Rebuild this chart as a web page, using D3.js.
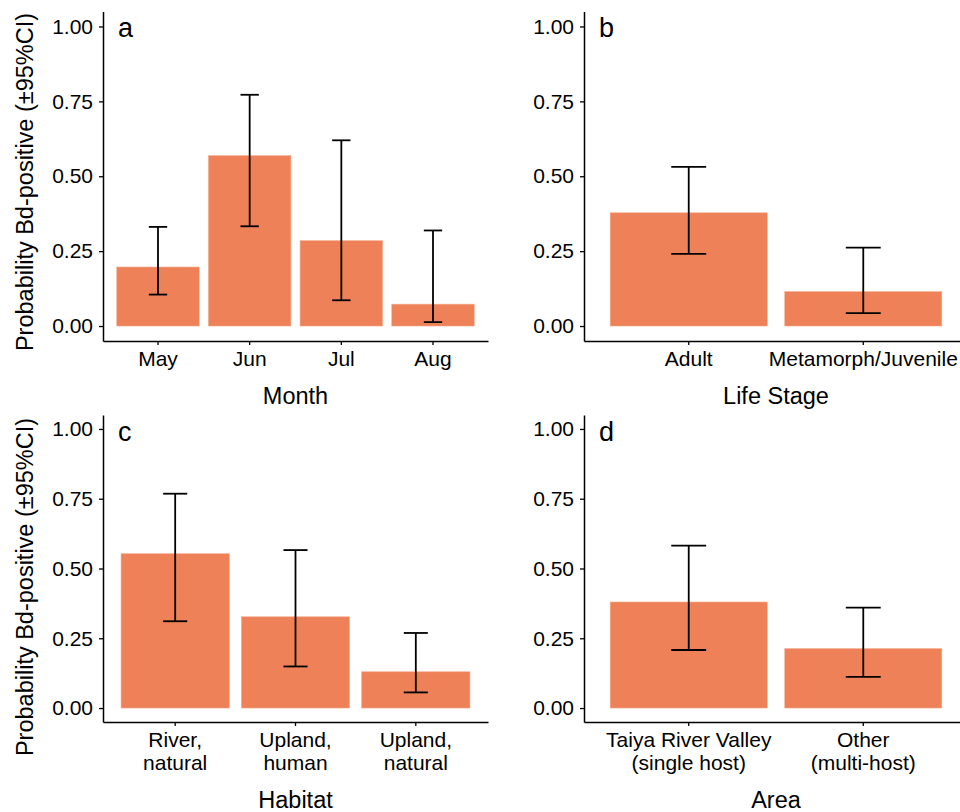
<!DOCTYPE html>
<html>
<head>
<meta charset="utf-8">
<script src="https://cdn.jsdelivr.net/npm/d3@7"></script>
<style>
  body { margin: 0; background: #fff; }
  svg { display: block; font-family: "Liberation Sans", Arial, Helvetica, sans-serif; }
</style>
</head>
<body>
<script>
// data
const monthCats = ['May', 'Jun', 'Jul', 'Aug'];
const monthProb = [0.197, 0.569, 0.285, 0.073];
const monthLo = [0.105, 0.333, 0.086, 0.013];
const monthHi = [0.331, 0.772, 0.620, 0.319];

const stageCats = ['Adult', 'Metamorph/Juvenile'];
const stageProb = [0.378, 0.115];
const stageLo = [0.241, 0.043];
const stageHi = [0.531, 0.262];

const habitatCats = ['River,\nnatural', 'Upland,\nhuman', 'Upland,\nnatural'];
const habitatProb = [0.553, 0.327, 0.130];
const habitatLo = [0.311, 0.149, 0.056];
const habitatHi = [0.768, 0.566, 0.269];

const areaCats = ['Taiya River Valley\n(single host)', 'Other\n(multi-host)'];
const areaProb = [0.380, 0.213];
const areaLo = [0.208, 0.112];
const areaHi = [0.582, 0.360];

const yTicks = [0, 0.25, 0.5, 0.75, 1];
const yTitle = 'Probability Bd-positive (\u00b195%CI)';

const barColor = '#ee8157';

const svg = d3.select(document.body).append('svg')
  .attr('width', 960)
  .attr('height', 812);

const panels = [
  { tag: 'a', cats: monthCats, p: monthProb, lo: monthLo, hi: monthHi, xlab: 'Month',
    left: 103, right: 488, top: 11.5, bottom: 341, ylab: true, ylabY: 182, xlabY: 404 },
  { tag: 'b', cats: stageCats, p: stageProb, lo: stageLo, hi: stageHi, xlab: 'Life Stage',
    left: 584, right: 968, top: 11.5, bottom: 341, ylab: false, xlabY: 404 },
  { tag: 'c', cats: habitatCats, p: habitatProb, lo: habitatLo, hi: habitatHi, xlab: 'Habitat',
    left: 103, right: 488, top: 415, bottom: 722, ylab: true, ylabY: 587, xlabY: 808 },
  { tag: 'd', cats: areaCats, p: areaProb, lo: areaLo, hi: areaHi, xlab: 'Area',
    left: 584, right: 968, top: 415, bottom: 722, ylab: false, xlabY: 808 }
];

panels.forEach(drawPanel);

function drawPanel(d) {
  const x = d3.scaleBand()
    .domain(d.cats)
    .range([d.left, d.right])
    .paddingInner(0.1)
    .paddingOuter(0.15);
  const y = d3.scaleLinear()
    .domain([-0.05, 1.05])
    .range([d.bottom, d.top]);

  const rows = d.cats.map((c, i) => ({ cat: c, p: d.p[i], lo: d.lo[i], hi: d.hi[i] }));
  const g = svg.append('g');

  // bars
  g.selectAll('.bar').data(rows)
    .enter().append('rect')
    .attr('class', 'bar')
    .attr('x', r => x(r.cat))
    .attr('width', x.bandwidth())
    .attr('y', r => y(r.p))
    .attr('height', r => y(0) - y(r.p))
    .attr('fill', barColor)
    .attr('stroke', '#f4ad90')
    .attr('stroke-width', 0.6);

  // error bars
  const cap = x.step() * 0.1;
  const eb = g.selectAll('.err').data(rows).enter().append('g')
    .attr('class', 'err')
    .attr('stroke', '#000')
    .attr('stroke-width', 1.8);
  eb.append('line')
    .attr('x1', r => x(r.cat) + x.bandwidth() / 2)
    .attr('x2', r => x(r.cat) + x.bandwidth() / 2)
    .attr('y1', r => y(r.lo))
    .attr('y2', r => y(r.hi));
  eb.append('line')
    .attr('x1', r => x(r.cat) + x.bandwidth() / 2 - cap)
    .attr('x2', r => x(r.cat) + x.bandwidth() / 2 + cap)
    .attr('y1', r => y(r.hi))
    .attr('y2', r => y(r.hi));
  eb.append('line')
    .attr('x1', r => x(r.cat) + x.bandwidth() / 2 - cap)
    .attr('x2', r => x(r.cat) + x.bandwidth() / 2 + cap)
    .attr('y1', r => y(r.lo))
    .attr('y2', r => y(r.lo));

  // y axis
  const ya = g.append('g')
    .attr('transform', `translate(${d.left},0)`)
    .call(d3.axisLeft(y).tickValues(yTicks).tickFormat(d3.format('.2f'))
      .tickSize(4).tickSizeOuter(0).tickPadding(6));
  styleAxis(ya);

  // x axis
  const xa = g.append('g')
    .attr('transform', `translate(0,${d.bottom})`)
    .call(d3.axisBottom(x).tickSize(4).tickSizeOuter(0).tickFormat(''));
  styleAxis(xa);
  xa.selectAll('.tick').append('text')
    .attr('fill', '#000')
    .attr('text-anchor', 'middle')
    .attr('font-size', 21)
    .each(function (c) {
      const lines = c.split('\n');
      const t = d3.select(this);
      lines.forEach((ln, k) => {
        t.append('tspan')
          .attr('x', 0)
          .attr('y', 25 + k * 23.3)
          .text(ln);
      });
    });

  // axis titles
  g.append('text')
    .attr('x', (d.left + d.right) / 2)
    .attr('y', d.xlabY)
    .attr('text-anchor', 'middle')
    .attr('font-size', 23.5)
    .text(d.xlab);

  if (d.ylab) {
    g.append('text')
      .attr('transform', `translate(33,${d.ylabY}) rotate(-90)`)
      .attr('text-anchor', 'middle')
      .attr('font-size', 23.5)
      .text(yTitle);
  }

  // panel tag
  g.append('text')
    .attr('x', d.left + 15)
    .attr('y', d.top + 25.5)
    .attr('font-size', 27)
    .text(d.tag);
}

function styleAxis(a) {
  a.select('.domain').attr('stroke', '#000').attr('stroke-width', 1.5);
  a.selectAll('.tick line').attr('stroke', '#000').attr('stroke-width', 1.3);
  a.selectAll('.tick text').attr('fill', '#000').attr('font-size', 21);
  a.attr('font-family', null);
}
</script>
</body>
</html>
